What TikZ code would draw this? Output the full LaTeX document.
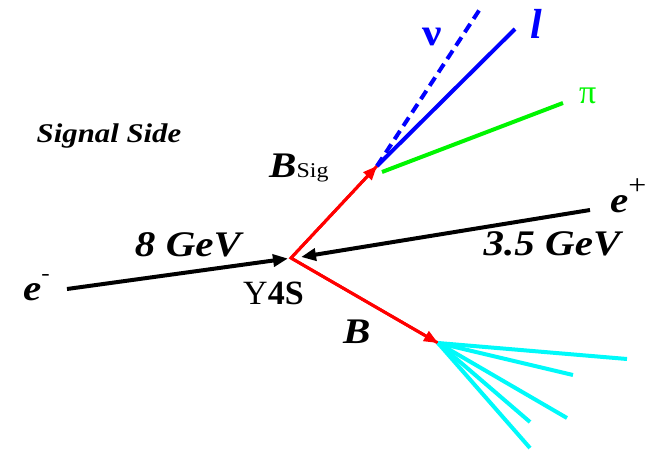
\documentclass[tikz,border=0pt]{standalone}
\usepackage{fontspec}
\setmainfont{Liberation Serif}
\usetikzlibrary{arrows.meta,calc}
\definecolor{pred}{RGB}{255,0,0}
\definecolor{pblue}{RGB}{0,0,255}
\definecolor{pgreen}{RGB}{0,245,0}
\definecolor{pcyan}{RGB}{0,250,250}
\newcommand{\hstretch}[1]{\scalebox{1.14}[1]{#1}}
\tikzset{
  lab/.style={inner sep=0pt, font=\fontsize{36}{40}\selectfont\bfseries\itshape},
  beam/.style={line width=4pt, black, -{Triangle[length=15pt,width=12pt]}},
  bmeson/.style={line width=3pt, pred, -{Triangle[length=14pt,width=11pt]}},
  track/.style={line width=4pt},
}
\begin{document}
\begin{tikzpicture}[x=1pt,y=-1pt]
\useasboundingbox (0,0) rectangle (654,453);
% points
\coordinate (v) at (291,258);
\coordinate (em) at (67,289);
\coordinate (ep) at (590,210);
\coordinate (bs) at (377,166);
\coordinate (bt) at (438,343);
\coordinate (nuend) at (482,6);
\coordinate (lend) at (515,29);
\coordinate (pistart) at (382,172);
\coordinate (piend) at (563,103);
\coordinate (c1) at (627,359);
\coordinate (c2) at (573,375);
\coordinate (c3) at (567,418);
\coordinate (c4) at (530,422);
\coordinate (c5) at (530,448);
\coordinate (emtip) at ($(v)+(-3,0.5)$);
\coordinate (eptip) at ($(v)+(10,-1)$);
% beams
\draw[beam] (em) -- (emtip);
\draw[beam] (ep) -- (eptip);
% B mesons
\draw[line width=3pt, pred, line join=miter] (bs) -- (v) -- (bt);
\draw[bmeson] (v) -- (bs);
\draw[bmeson] (v) -- (bt);
% signal side tracks
\draw[track, pblue, dash pattern=on 10pt off 6pt] (bs) -- (nuend);
\draw[track, pblue] (bs) -- (lend);
\draw[track, pgreen] (pistart) -- (piend);
% tag side tracks
\foreach \c in {c1,c2,c3,c4,c5} \draw[track, pcyan] (bt) -- (\c);
% labels
\node[inner sep=0pt, font=\fontsize{27}{30}\selectfont\bfseries\itshape] (sig) at (109,136) {\hstretch{Signal Side}};
\node[lab] (g8) at (188,245) {\hstretch{8 GeV}};
\node[lab] (g35) at (552,244) {\hstretch{3.5 GeV}};
\node[lab, anchor=base west] (epl) at (610,212) {\hstretch{e\raisebox{0.5em}{\fontsize{28}{28}\selectfont\mdseries\upshape +}}};
\node[lab, anchor=base west] (eml) at (23,300) {\hstretch{e\raisebox{0.55em}{\fontsize{22}{22}\selectfont\mdseries\upshape -}}};
\node[inner sep=0pt, anchor=base west, font=\fontsize{34}{36}\selectfont] (y4s) at (243,304) {Y\textbf{4S}};
\node[lab, anchor=base west] (bsl) at (269,177) {\hstretch{B{\fontsize{21}{22}\selectfont\mdseries\upshape Sig}}};
\node[lab, anchor=base west] (bl) at (343,343) {\hstretch{B}};
\node[inner sep=0pt, anchor=base west, pblue, font=\fontsize{38}{40}\selectfont\bfseries] (nul) at (422,45) {\hstretch{ν}};
\node[lab, anchor=base west, pblue, font=\fontsize{42}{44}\selectfont\bfseries\itshape] (ll) at (530,38) {l};
\node[inner sep=0pt, anchor=base west, pgreen, font=\fontsize{34}{36}\selectfont] (pil) at (579,103) {π};
\end{tikzpicture}
\end{document}
